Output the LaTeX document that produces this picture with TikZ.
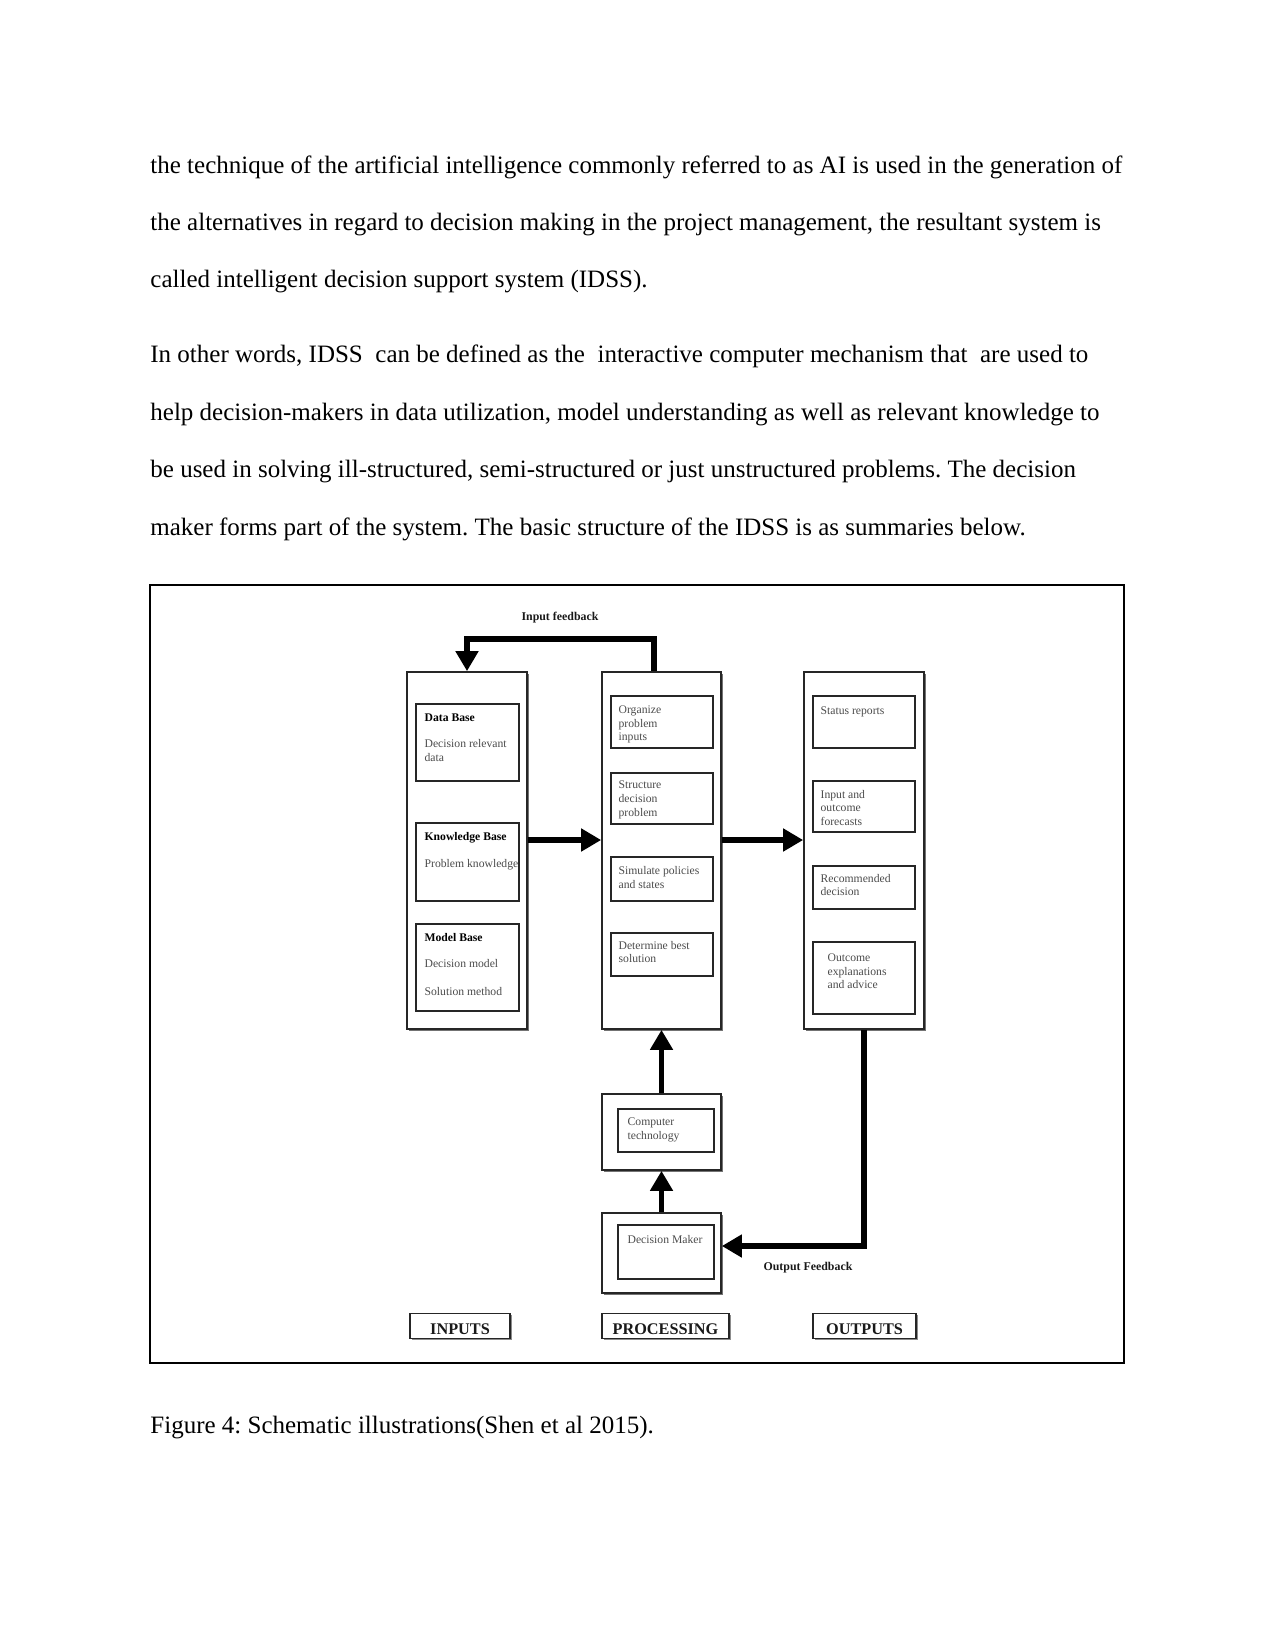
\documentclass[tikz,border=0pt]{standalone}
\usepackage{xcolor}
\usepackage{fontspec}
\setmainfont{Liberation Serif}
\usepackage{tikz}
\usetikzlibrary{fit}
\usetikzlibrary{shadows}
\usetikzlibrary{arrows.meta}
\frenchspacing
\newcommand{\boxtitle}[1]{\textcolor{black}{\textbf{#1}}}
\tikzset{
  outer box/.style={draw=black!85,fill=white,line width=0.8bp,inner sep=0pt,
    drop shadow={shadow xshift=1.1bp,shadow yshift=-1.1bp,fill=black!55,opacity=1}},
  inner box/.style={draw=black!85,line width=0.75bp,inner sep=0pt},
  box text/.style={anchor=north west,inner sep=0pt,align=left,text=black!70,
    font=\fontsize{5.6bp}{6.6bp}\selectfont},
  small label/.style={font=\fontsize{5.7bp}{6.6bp}\selectfont\bfseries,text=black!90},
  part label/.style={draw=black!85,fill=white,line width=0.7bp,inner sep=0pt,
    minimum height=12bp,text height=7.8bp,text depth=0pt,text=black!90,
    font=\fontsize{7.8bp}{9bp}\selectfont\bfseries,
    drop shadow={shadow xshift=0.8bp,shadow yshift=-0.8bp,fill=black!45,opacity=1}},
  body line/.style={anchor=base west,inner sep=0pt,font=\fontsize{12bp}{14bp}\selectfont},
  flow/.style={->,line width=2.8bp}
}
\begin{document}
\begin{tikzpicture}[>={Triangle[length=9.6bp,width=10.5bp]},x=0.48bp,y=-0.48bp]
  \useasboundingbox (0,0) rectangle (1275,1651);
  % text of the page
  \node[body line] (l1) at (150,173) {the technique of the artificial intelligence commonly referred to as AI is used in the generation of};
  \node[body line] (l2) at (150,230) {the alternatives in regard to decision making in the project management, the resultant system is};
  \node[body line] (l3) at (150,287) {called intelligent decision support system (IDSS).};
  \node[body line] (l4) at (150,362) {In other words, IDSS\ \ can be defined as the\ \ interactive computer mechanism that\ \ are used to};
  \node[body line] (l5) at (150,420) {help decision-makers in data utilization, model understanding as well as relevant knowledge to};
  \node[body line] (l6) at (150,477) {be used in solving ill-structured, semi-structured or just unstructured problems. The decision};
  \node[body line] (l7) at (150,535) {maker forms part of the system. The basic structure of the IDSS is as summaries below.};
  \node[body line] (cap) at (150,1433) {Figure 4: Schematic illustrations(Shen et al 2015).};

  % figure
  \node[draw,line width=0.6bp,inner sep=0pt,fit={(150,585) (1124,1363)}] (frame) {};
  \node[small label] (infbtext) at (560,618) {Input feedback};
  \node[small label] (outfbtext) at (808,1268) {Output Feedback};

  \node[outer box,fit={(407,672) (527,1029)}] (inp) {};
  \node[outer box,fit={(602,672) (721,1029)}] (proc) {};
  \node[outer box,fit={(804,672) (924,1029)}] (outp) {};
  \node[outer box,fit={(602,1094) (721,1170)}] (ct) {};
  \node[outer box,fit={(602,1213) (721,1293)}] (dm) {};

  % inputs
  \node[inner box,fit={(416,704) (519,781)}] (db) {};
  \node[inner box,fit={(416,823) (519,901)}] (kb) {};
  \node[inner box,fit={(416,924) (519,1011)}] (mb) {};
  \node[box text] (dbtext) at ([shift={(9,10)}]db.north west) {\boxtitle{Data Base}\\[6bp]Decision relevant\\data};
  \node[box text] (kbtext) at ([shift={(9,9.5)}]kb.north west) {\boxtitle{Knowledge Base}\\[6.4bp]Problem knowledge};
  \node[box text] (mbtext) at ([shift={(9,9.5)}]mb.north west) {\boxtitle{Model Base}\\[6.2bp]Decision model\\[6.8bp]Solution method};

  % processing
  \node[inner box,fit={(611,696) (713,748)}] (org) {};
  \node[inner box,fit={(611,773) (713,824)}] (struc) {};
  \node[inner box,fit={(611,857) (713,901)}] (sim) {};
  \node[inner box,fit={(611,933) (713,976)}] (det) {};
  \node[box text] (orgtext) at ([shift={(8,10)}]org.north west) {Organize\\problem\\inputs};
  \node[box text] (structext) at ([shift={(8,8.5)}]struc.north west) {Structure\\decision\\problem};
  \node[box text] (simtext) at ([shift={(8,10)}]sim.north west) {Simulate policies\\and states};
  \node[box text] (dettext) at ([shift={(8,8.5)}]det.north west) {Determine best\\solution};

  % outputs
  \node[inner box,fit={(813,696) (915,748)}] (stat) {};
  \node[inner box,fit={(813,781) (915,832)}] (fore) {};
  \node[inner box,fit={(813,866) (915,909)}] (rec) {};
  \node[inner box,fit={(813,942) (915,1014)}] (expl) {};
  \node[box text] (stattext) at ([shift={(8,11)}]stat.north west) {Status reports};
  \node[box text] (foretext) at ([shift={(8,9.5)}]fore.north west) {Input and\\outcome\\forecasts};
  \node[box text] (rectext) at ([shift={(8,8.5)}]rec.north west) {Recommended\\decision};
  \node[box text] (expltext) at ([shift={(15,12)}]expl.north west) {Outcome\\explanations\\and advice};

  % decision maker and computer technology
  \node[inner box,fit={(618,1109) (714,1152)}] (ctin) {};
  \node[inner box,fit={(618,1225) (714,1279)}] (dmin) {};
  \node[box text] (cttext) at ([shift={(10,9.5)}]ctin.north west) {Computer\\technology};
  \node[box text] (dmtext) at ([shift={(10,10.5)}]dmin.north west) {Decision Maker};

  % column names
  \node[part label,minimum width=48bp] (inlab) at (460,1326) {INPUTS};
  \node[part label,minimum width=61bp] (proclab) at (665.5,1326) {PROCESSING};
  \node[part label,minimum width=49.4bp] (outlab) at (864.5,1326) {OUTPUTS};

  % arrows
  \coordinate (midrow) at (0,840);
  \coordinate (infbr) at (654,639);
  \coordinate (infbl) at (467,639);
  \coordinate (outfb) at (864,1246);
  \draw[flow] (inp.east |- midrow) -- (proc.west |- midrow);
  \draw[flow] (proc.east |- midrow) -- (outp.west |- midrow);
  \draw[flow] (infbr |- proc.north) -- (infbr) -- (infbl) -- (infbl |- inp.north);
  \draw[flow] (ct) -- (proc);
  \draw[flow] (dm) -- (ct);
  \draw[flow] (outfb |- outp.south) -- (outfb) -- (outfb -| dm.east);
\end{tikzpicture}
\end{document}
